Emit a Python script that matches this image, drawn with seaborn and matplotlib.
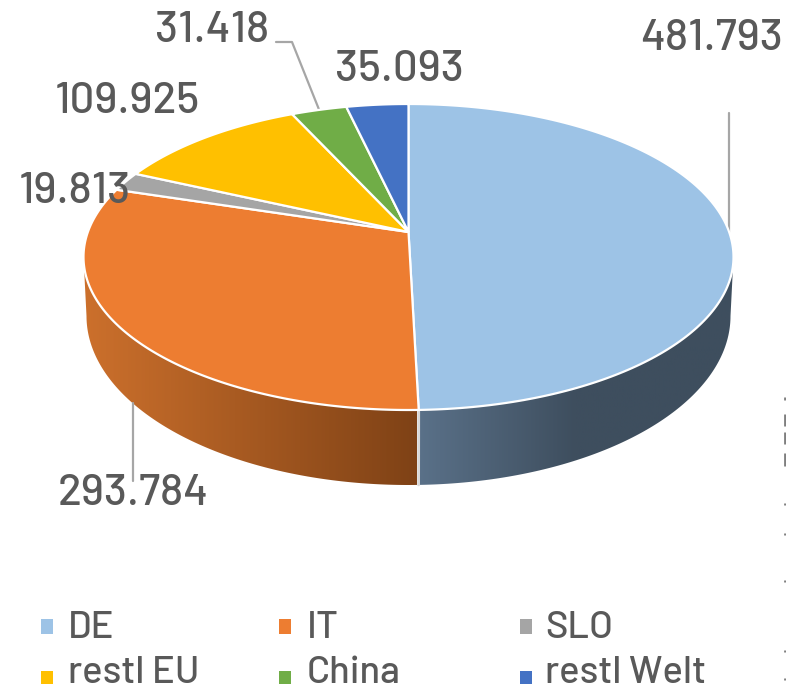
"""Perspective 3D pie of volumes by region."""

import matplotlib

matplotlib.use("Agg")

import matplotlib.pyplot as plt
import numpy as np
import seaborn as sns
from matplotlib import font_manager
from matplotlib.patches import Polygon, Rectangle

CATEGORIES = ["DE", "IT", "SLO", "restl EU", "China", "restl Welt"]
VALUES = [481793, 293784, 19813, 109925, 31418, 35093]
VALUE_LABELS = ["481.793", "293.784", "19.813", "109.925", "31.418", "35.093"]
COLORS = ["#9DC3E6", "#ED7D31", "#A5A5A5", "#FFC000", "#70AD47", "#4472C4"]

TEXT_COLOR = "#595959"
LINE_COLOR = "#A6A6A6"

# pie geometry in pixels: top ellipse, apex and lower rim
CX = 408.5
TOP_CY, TOP_RX, TOP_RY = 257, 325, 153
APEX_Y = 232
LOW_CY, LOW_RX, LOW_RY = 316, 322, 169

# perspective factor that puts the apex off the ellipse centre
K = (178 - 128) / (178 + 128)
PROJ_A = TOP_RX * np.sqrt(1 - K**2)
PROJ_B = 128 * (1 + K)


def project(theta):
    # clockwise degrees from 12 o'clock -> pixel on the top rim
    rad = np.radians(theta)
    w = 1 + K * np.cos(rad)
    return CX + PROJ_A * np.sin(rad) / w, APEX_Y - PROJ_B * np.cos(rad) / w


def rim_param(theta):
    x, y = project(theta)
    return np.degrees(np.arctan2((x - CX) / TOP_RX, (TOP_CY - y) / TOP_RY)) % 360


def draw_wall(ax, start, end, ramp_colors, x0, x1):
    phi = np.radians(np.linspace(start, end, 120))
    top = np.column_stack([CX + TOP_RX * np.sin(phi), TOP_CY - TOP_RY * np.cos(phi)])
    low = np.column_stack([CX + LOW_RX * np.sin(phi), LOW_CY - LOW_RY * np.cos(phi)])
    outline = Polygon(np.vstack([top, low[::-1]]), closed=True, fc="none", ec="none")
    ax.add_patch(outline)
    ramp = np.array(sns.blend_palette(ramp_colors, 200))[None, :, :]
    img = ax.imshow(ramp, extent=(x0, x1, 500, 200), aspect="auto", zorder=1)
    img.set_clip_path(outline)


def pick_font(*names):
    installed = {f.name for f in font_manager.fontManager.ttflist}
    return next((n for n in names if n in installed), "DejaVu Sans")


NUMBER_FONT = pick_font("Barlow", "Roboto")
LEGEND_FONT = pick_font("Barlow", "Roboto")

sns.set_theme(style="white")
fig, ax = plt.subplots(figsize=(7.86, 6.91), dpi=100)
fig.subplots_adjust(0, 0, 1, 1)
ax.axis("off")

edges = 360 * np.cumsum([0] + VALUES) / np.sum(VALUES)

# side walls, only the two front slices show one
split = rim_param(edges[1])
draw_wall(ax, split, 270, ["#CC702C", "#7F4216"], 83, 417)
draw_wall(ax, 90, split, ["#5A7189", "#3E4E5E", "#3E4E5E"], 417, 734)
sx, sy = project(edges[1])
ax.plot(
    [sx, CX + LOW_RX * np.sin(np.radians(split))],
    [sy, LOW_CY - LOW_RY * np.cos(np.radians(split))],
    color="#D9D9D9",
    lw=2,
    zorder=2,
)

# top face
palette = sns.color_palette(COLORS)
for i, color in enumerate(palette):
    theta = np.linspace(edges[i], edges[i + 1], 200)
    x, y = project(theta)
    pts = np.column_stack([np.r_[CX, x], np.r_[APEX_Y, y]])
    ax.add_patch(Polygon(pts, closed=True, fc=color, ec="white", lw=1.6, zorder=3))

# leader lines
ax.plot([729, 729], [113, 232], color=LINE_COLOR, lw=1.6, zorder=2)
ax.plot([276, 292, 320], [42, 42, 112], color=LINE_COLOR, lw=1.6, zorder=2)
ax.plot([133, 133], [403, 481], color=LINE_COLOR, lw=1.6, zorder=2)

# value labels, same order as VALUE_LABELS
label_pos = [(640, 50), (58, 505), (19, 203), (55, 113), (155, 42), (335, 81)]
for text, (x, y) in zip(VALUE_LABELS, label_pos):
    ax.text(
        x, y, text, color=TEXT_COLOR, fontsize=31.5, family=NUMBER_FONT, weight=500,
        ha="left", va="baseline", zorder=5,
    )

# legend
legend_pos = [(41, 68), (279, 307), (520, 545)]
row_base = [638, 683]
row_box = [(619, 15), (671, 13)]
for i, (name, color) in enumerate(zip(CATEGORIES, palette)):
    box_x, text_x = legend_pos[i % 3]
    row = i // 3
    box_y, box_h = row_box[row]
    ax.add_patch(Rectangle((box_x, box_y), 12, box_h, fc=color, ec="none"))
    ax.text(
        text_x, row_base[row], name, color=TEXT_COLOR, fontsize=27.5,
        family=LEGEND_FONT, weight=500, ha="left", va="baseline",
    )

# the source crop catches the edge of a neighbouring chart's labels at the right
ax.vlines(
    [785] * 7,
    [397, 414, 432, 453, 503, 533, 580],
    [400, 426, 444, 466, 505, 535, 582],
    color="#7F7F7F",
    lw=2,
)
ax.vlines([785, 785], [650, 678], [652, 680], color="#7F7F7F", lw=2)

ax.set_xlim(0, 786)
ax.set_ylim(691, 0)
fig.savefig("out.png", dpi=100)
